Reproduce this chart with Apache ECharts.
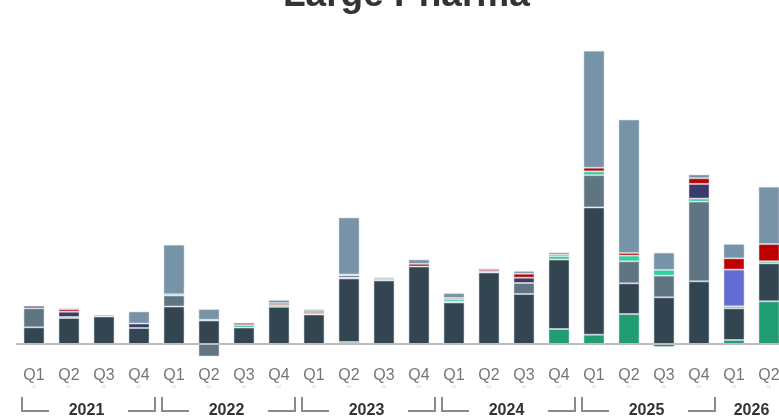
<!DOCTYPE html>
<html>
<head>
<meta charset="utf-8">
<script src="https://cdn.jsdelivr.net/npm/echarts@6/dist/echarts.min.js"></script>
<style>html,body{margin:0;padding:0;background:#fff}#c{width:779px;height:418px}</style>
</head>
<body>
<div id="c"></div>
<script>
const quarters = ['Q1','Q2','Q3','Q4','Q1','Q2','Q3','Q4','Q1','Q2','Q3','Q4','Q1','Q2','Q3','Q4','Q1','Q2','Q3','Q4','Q1','Q2'];
const years    = ['2021','2021','2021','2021','2022','2022','2022','2022','2023','2023','2023','2023','2024','2024','2024','2024','2025','2025','2025','2025','2026','2026'];

const greenVals      = [0,0,0,0,0,0,0,0,0,0.2,0,0,0,0,0,1.5,0.93,3.0,-0.3,0,0.4,4.27];
const darkVals       = [1.67,2.6,2.75,1.6,3.75,2.35,1.65,3.72,2.95,6.35,6.35,7.75,4.15,7.15,5.0,6.95,12.73,3.07,4.67,6.27,3.17,3.8];
const mediumVals     = [1.9,0.1,0.15,0,1.1,-1.25,0,0,0,0.1,0.12,0,0.1,0,1.1,0,3.23,2.2,2.17,7.97,0,0];
const mintVals       = [0,0,0,0,0.13,0,0.25,0.18,0.15,0,0,0,0.23,0.13,0,0.33,0.37,0.57,0.57,0.3,0.2,0.2];
const purpleVals     = [0.25,0.53,0,0.45,0,0,0,0,0,0.2,0.12,0,0,0,0.53,0,0,0,0,1.47,0,0];
const periwinkleVals = [0,0,0,0,0,0,0,0,0,0,0,0,0,0,0,0,0,0,0,0,3.67,0];
const redVals        = [0,0.25,0,0,0,0,0.22,0.2,0.2,0.1,0.05,0.27,0.13,0.2,0.4,0.15,0.37,0.27,0,0.57,1.13,1.73];
const brownVals      = [0,0,0,0,0,0.08,0,0,0,0,0,0,0,0,0,0,0,0,0,0,0,0];
const lightBlueVals  = [0,0.08,0,1.2,4.95,1.05,0,0.3,0.17,5.7,0,0.43,0.47,0.05,0.27,0.23,11.7,13.33,1.73,0.37,1.43,5.73];

const seriesDefs = [
  ['green', greenVals, '#219d74'],
  ['dark', darkVals, '#344552'],
  ['medium', mediumVals, '#5f7582'],
  ['mint', mintVals, '#2dd39c'],
  ['purple', purpleVals, '#3d3a6b'],
  ['periwinkle', periwinkleVals, '#636bd5'],
  ['red', redVals, '#c00000'],
  ['brown', brownVals, '#b06a55'],
  ['lightblue', lightBlueVals, '#7793a8']
];

const chart = echarts.init(document.getElementById('c'), null, {renderer: 'canvas'});
const option = {
  animation: false,
  title: {
    text: 'Large Pharma',
    left: 278, top: -28,
    textStyle: {fontFamily: 'Liberation Sans, Arial, sans-serif', fontSize: 37, fontWeight: 'bold', color: '#333'}
  },
  grid: {left: 16.5, right: -7.5, top: 44, bottom: 74, containLabel: false, outerBoundsMode: 'none'},
  xAxis: {
    type: 'category',
    data: quarters.map((q, i) => q + '|' + years[i]),
    axisLine: {onZero: false, lineStyle: {color: '#bdbdbd', width: 2}},
    axisTick: {show: false},
    axisLabel: {
      interval: 0, margin: 23, hideOverlap: false,
      formatter: v => { const p = v.split('|'); return '{a|' + p[0] + '}\n{b|\'' + p[1].slice(2) + ' ' + '}'; },
      rich: {
        a: {fontFamily: 'Liberation Sans, Arial, sans-serif', fontSize: 16, color: '#767676', lineHeight: 17},
        b: {fontFamily: 'Liberation Sans, Arial, sans-serif', fontSize: 4, color: '#c8c8c8', lineHeight: 6}
      }
    },
    z: 5
  },
  yAxis: {type: 'value', min: 0, max: 30, show: false, splitLine: {show: false}},
  series: seriesDefs.map(([name, vals, color]) => ({
    name, type: 'bar', stack: 'total', barWidth: 21, clip: false,
    data: vals.map(v => v === 0 ? '-' : v),
    itemStyle: {color, borderColor: 'rgba(205,215,222,0.55)', borderWidth: 1}
  }))
};
chart.setOption(option);

// Year group brackets and labels, positioned from the category axis
const groups = [];
years.forEach((y, i) => {
  const g = groups[groups.length - 1];
  if (g && g.year === y) g.end = i; else groups.push({year: y, start: i, end: i});
});
const half = 17.5;
const elements = [];
groups.forEach(g => {
  const x0 = chart.convertToPixel({xAxisIndex: 0}, g.start) - half;
  const x1 = chart.convertToPixel({xAxisIndex: 0}, g.end) + half;
  const cx = (x0 + x1) / 2;
  elements.push({type: 'text', x: cx, y: 411, style: {text: g.year, fontFamily: 'Liberation Sans, Arial, sans-serif', fontSize: 16, fontWeight: 'bold', fill: '#333', align: 'center', verticalAlign: 'middle'}});
  if (g.end - g.start >= 3) {
    const l = x0 + 5.5, r = x1 - 1.5;
    elements.push({type: 'polyline', shape: {points: [[l, 397], [l, 411], [l + 27, 411]]}, style: {stroke: '#8a8a8a', lineWidth: 2, fill: null}});
    elements.push({type: 'polyline', shape: {points: [[r - 27, 411], [r, 411], [r, 397]]}, style: {stroke: '#8a8a8a', lineWidth: 2, fill: null}});
  }
});
chart.setOption({graphic: {elements}});
</script>
</body>
</html>
